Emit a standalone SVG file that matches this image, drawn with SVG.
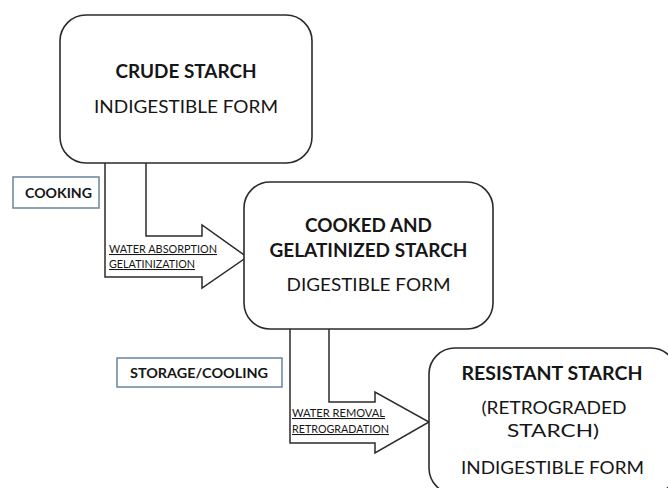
<svg xmlns="http://www.w3.org/2000/svg" width="668" height="488" viewBox="0 0 668 488">
<style>
.node{fill:#fff;stroke:#2b2b2b;stroke-width:1.6}
.tag{fill:#fff;stroke:#6a84a0;stroke-width:1.5}
.conn{fill:#fff;stroke:#2b2b2b;stroke-width:1.5;stroke-linejoin:miter}
text{font-family:"Lato","Liberation Sans",sans-serif;fill:#161616}
.t{font-size:18px;font-weight:bold;text-anchor:middle}
.s{font-size:18px;text-anchor:middle}
.g{font-size:14px;font-weight:bold}
.l{font-size:10.5px;text-decoration:underline}
</style>
<rect width="668" height="488" fill="#fff"/>
<g id="connectors">
<path class="conn" d="M146,163 V236 H202 V225 L247,257 L202,288 V277 H105 V163"/>
<path class="conn" d="M329,329 V402 H375 V392 L429,422 L375,453 V443 H290 V329"/>
<text class="l" x="109" y="253" textLength="108" lengthAdjust="spacingAndGlyphs">WATER ABSORPTION</text>
<text class="l" x="109" y="268" textLength="86" lengthAdjust="spacingAndGlyphs">GELATINIZATION</text>
<text class="l" x="292" y="417" textLength="93" lengthAdjust="spacingAndGlyphs">WATER REMOVAL</text>
<text class="l" x="292" y="433" textLength="97" lengthAdjust="spacingAndGlyphs">RETROGRADATION</text>
</g>
<g id="crude">
<rect class="node" x="60" y="15" width="252" height="148" rx="26"/>
<text class="t" x="186" y="78" textLength="141" lengthAdjust="spacingAndGlyphs">CRUDE STARCH</text>
<text class="s" x="186" y="113" textLength="184" lengthAdjust="spacingAndGlyphs">INDIGESTIBLE FORM</text>
</g>
<g id="cooking">
<rect class="tag" x="13" y="177" width="86" height="31"/>
<text class="g" x="25" y="198" textLength="67" lengthAdjust="spacingAndGlyphs">COOKING</text>
</g>
<g id="cooked">
<rect class="node" x="244" y="182" width="249" height="147" rx="26"/>
<text class="t" x="368.5" y="232" textLength="127" lengthAdjust="spacingAndGlyphs">COOKED AND</text>
<text class="t" x="368.5" y="257" textLength="198" lengthAdjust="spacingAndGlyphs">GELATINIZED STARCH</text>
<text class="s" x="368.5" y="291" textLength="164" lengthAdjust="spacingAndGlyphs">DIGESTIBLE FORM</text>
</g>
<g id="storage">
<rect class="tag" x="117" y="358" width="165" height="29"/>
<text class="g" x="130" y="378" textLength="138" lengthAdjust="spacingAndGlyphs">STORAGE/COOLING</text>
</g>
<g id="resistant">
<rect class="node" x="429" y="348" width="248" height="146" rx="26"/>
<text class="t" x="552" y="380" textLength="181" lengthAdjust="spacingAndGlyphs">RESISTANT STARCH</text>
<text class="s" x="554" y="414" textLength="145" lengthAdjust="spacingAndGlyphs">(RETROGRADED</text>
<text class="s" x="553" y="437" textLength="92" lengthAdjust="spacingAndGlyphs">STARCH)</text>
<text class="s" x="552.5" y="474" textLength="183" lengthAdjust="spacingAndGlyphs">INDIGESTIBLE FORM</text>
</g>
</svg>
